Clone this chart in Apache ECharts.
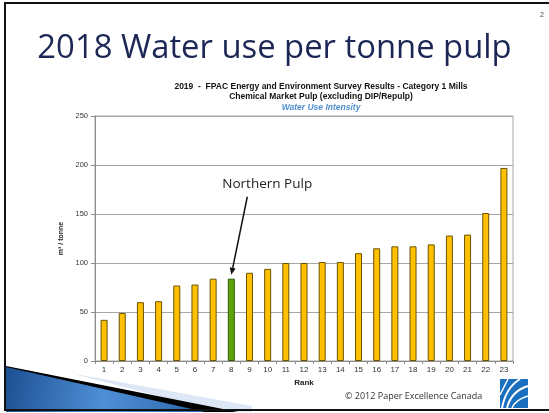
<!DOCTYPE html>
<html>
<head>
<meta charset="utf-8">
<script src="https://cdn.jsdelivr.net/npm/echarts@6/dist/echarts.min.js"></script>
<style>
  html, body { margin: 0; padding: 0; background: #ffffff; }
  #chart { width: 549px; height: 413px; }
</style>
</head>
<body>
<div id="chart"></div>
<script>
// Mill rank (1 = lowest water use)
const ranks = ['1','2','3','4','5','6','7','8','9','10','11','12','13','14','15','16','17','18','19','20','21','22','23'];
// Water use intensity, m³ per tonne of pulp
const waterUse = [42, 49, 60, 61, 77, 78, 84, 84, 90, 94, 100, 100, 101, 101, 110, 115, 117, 117, 119, 128, 129, 151, 197];
// Rank held by Northern Pulp
const highlightRank = '8';
const yTicks = [0, 50, 100, 150, 200, 250];

const chart = echarts.init(document.getElementById('chart'));

const barData = waterUse.map((v, i) => ({
  value: v,
  itemStyle: ranks[i] === highlightRank
    ? { color: '#5fa30c', borderColor: '#2f5a06' }
    : { color: '#ffc000', borderColor: '#6b5300' }
}));

chart.setOption({
  animation: false,
  backgroundColor: '#ffffff',
  title: [
    {
      text: '2018 Water use per tonne pulp',
      left: 'center', top: 27,
      textStyle: { fontFamily: 'Open Sans', fontWeight: 'normal', fontSize: 32.8, color: '#1c2756' }
    },
    {
      text: '2019  -  FPAC Energy and Environment Survey Results - Category 1 Mills\nChemical Market Pulp (excluding DIP/Repulp)',
      left: 316, top: 77, textAlign: 'center',
      textStyle: { fontFamily: 'Liberation Sans', fontWeight: 'bold', fontSize: 8.5, lineHeight: 10, color: '#111111' }
    },
    {
      text: 'Water Use Intensity',
      left: 316, top: 98, textAlign: 'center',
      textStyle: { fontFamily: 'Liberation Sans', fontWeight: 'bold', fontStyle: 'italic', fontSize: 8.5, color: '#4f8fcf' }
    }
  ],
  grid: { left: 95, right: 36, top: 116, bottom: 52, show: true, borderColor: '#a6a6a6', borderWidth: 1 },
  xAxis: {
    type: 'category',
    data: ranks,
    name: 'Rank',
    nameLocation: 'middle',
    nameGap: 17,
    nameTextStyle: { fontFamily: 'Liberation Sans', fontWeight: 'bold', fontSize: 8, color: '#222' },
    axisLine: { lineStyle: { color: '#8c8c8c' } },
    axisTick: { show: true, length: 3, lineStyle: { color: '#8c8c8c' } },
    axisLabel: { fontFamily: 'Liberation Sans', fontSize: 8, color: '#333', margin: 5 }
  },
  yAxis: {
    type: 'value',
    min: 0, max: 250, interval: 50,
    name: 'm³ / tonne',
    nameLocation: 'middle',
    nameGap: 27,
    nameRotate: 90,
    nameTextStyle: { fontFamily: 'Liberation Sans', fontWeight: 'bold', fontSize: 7, color: '#222' },
    axisLine: { show: true, lineStyle: { color: '#8c8c8c' } },
    axisTick: { show: true, length: 4, lineStyle: { color: '#8c8c8c' } },
    axisLabel: {
      fontFamily: 'Liberation Sans', fontSize: 7.5, color: '#333', margin: 7,
      formatter: v => yTicks.includes(v) ? String(v) : ''
    },
    splitLine: { lineStyle: { color: '#a6a6a6', width: 1 } }
  },
  series: [{
    type: 'bar',
    data: barData,
    barWidth: 7,
    itemStyle: { borderWidth: 1 }
  }]
});

// Annotation arrow pointing at the highlighted mill's bar
const hIdx = ranks.indexOf(highlightRank);
const tip = chart.convertToPixel({ gridIndex: 0 }, [hIdx, waterUse[hIdx] + 4]);
const start = [tip[0] + 16, tip[1] - 78];
const ang = Math.atan2(tip[1] - start[1], tip[0] - start[0]);
const ah = 7, aw = 3;
const back = [tip[0] - ah * Math.cos(ang), tip[1] - ah * Math.sin(ang)];
const perp = [-Math.sin(ang) * aw, Math.cos(ang) * aw];

chart.setOption({
  graphic: [
    // slide frame
    { type: 'rect', shape: { x: 5, y: 3, width: 560, height: 407 }, style: { fill: 'none', stroke: '#111', lineWidth: 2 }, z: 10 },
    // page number
    { type: 'text', left: 540, top: 12, style: { text: '2', font: '7px Liberation Sans', fill: '#444' } },
    // lower-left decorative wedge
    {
      type: 'polygon', z: 4,
      shape: { points: [[70, 373], [252, 406], [252, 412], [220, 412]] },
      style: { fill: '#dce8f5' }
    },
    {
      type: 'polygon', z: 5,
      shape: { points: [[6, 366], [238, 412], [6, 412]] },
      style: { fill: '#000000' }
    },
    {
      type: 'polygon', z: 6,
      shape: { points: [[6, 367], [205, 412], [6, 412]] },
      style: {
        fill: new echarts.graphic.LinearGradient(0, 0, 1, 1, [
          { offset: 0, color: '#1d4f92' },
          { offset: 0.5, color: '#4f8fd6' },
          { offset: 1, color: '#2d64ad' }
        ])
      }
    },
    // annotation
    { type: 'text', left: start[0] - 25, top: start[1] - 20, style: { text: 'Northern Pulp', font: '13.5px Open Sans', fill: '#222' } },
    { type: 'line', shape: { x1: start[0], y1: start[1], x2: back[0], y2: back[1] }, style: { stroke: '#111', lineWidth: 1.5 } },
    {
      type: 'polygon',
      shape: { points: [tip, [back[0] + perp[0], back[1] + perp[1]], [back[0] - perp[0], back[1] - perp[1]]] },
      style: { fill: '#111' }
    },
    // footer
    { type: 'text', left: 345, top: 392, style: { text: '© 2012 Paper Excellence Canada', font: '9px Open Sans', fill: '#333' } },
    // logo
    { type: 'rect', shape: { x: 500, y: 379, width: 28, height: 29 }, style: { fill: '#1a6fbf' } },
    { type: 'bezierCurve', shape: { x1: 502, y1: 408, x2: 520, y2: 379, cpx1: 505, cpy1: 392, cpx2: 512, cpy2: 384 }, style: { stroke: '#fff', lineWidth: 2, fill: 'none' } },
    { type: 'bezierCurve', shape: { x1: 507, y1: 408, x2: 528, y2: 386, cpx1: 510, cpy1: 396, cpx2: 518, cpy2: 389 }, style: { stroke: '#fff', lineWidth: 2, fill: 'none' } },
    { type: 'bezierCurve', shape: { x1: 512, y1: 408, x2: 528, y2: 396, cpx1: 515, cpy1: 401, cpx2: 521, cpy2: 398 }, style: { stroke: '#fff', lineWidth: 1.5, fill: 'none' } },
    { type: 'line', shape: { x1: 500, y1: 395, x2: 508, y2: 379 }, style: { stroke: '#fff', lineWidth: 1.5 } }
  ]
});
</script>
</body>
</html>
